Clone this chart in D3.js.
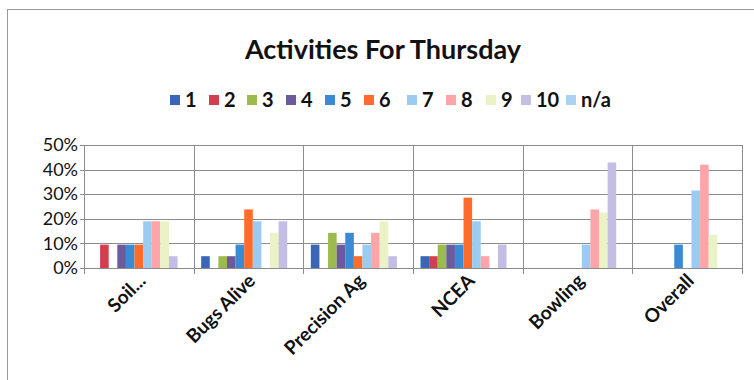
<!DOCTYPE html>
<html>
<head>
<meta charset="utf-8">
<script src="https://cdn.jsdelivr.net/npm/d3@7"></script>
<style>
  html, body { margin: 0; padding: 0; background: #fff; }
  svg { display: block; font-family: Lato, "Open Sans", sans-serif; }
</style>
</head>
<body>
<svg id="chart" width="754" height="380"></svg>
<script>
// Activities and rating series
const categories = ["Soil...", "Bugs Alive", "Precision Ag", "NCEA", "Bowling", "Overall"];
const seriesNames = ["1", "2", "3", "4", "5", "6", "7", "8", "9", "10", "n/a"];
const seriesColors = ["#3A66B8", "#D2404F", "#9BBB4F", "#6B5B9E", "#3A8BD6", "#FF6B2B",
                      "#9CCBF2", "#FFA5AA", "#E9F3C6", "#C4BDE4", "#A9D3F2"];

// Share of responses per activity, one array per rating (order follows categories)
const s1  = [0,     0.048, 0.095, 0.048, 0,     0];
const s2  = [0.095, 0,     0,     0.048, 0,     0];
const s3  = [0,     0.048, 0.143, 0.095, 0,     0];
const s4  = [0.095, 0.048, 0.095, 0.095, 0,     0];
const s5  = [0.095, 0.095, 0.143, 0.095, 0,     0.095];
const s6  = [0.095, 0.238, 0.048, 0.286, 0,     0];
const s7  = [0.19,  0.19,  0.095, 0.19,  0.095, 0.315];
const s8  = [0.19,  0,     0.143, 0.048, 0.238, 0.42];
const s9  = [0.19,  0.143, 0.19,  0,     0.225, 0.135];
const s10 = [0.048, 0.19,  0.048, 0.095, 0.429, 0];
const sNA = [0,     0,     0,     0,     0,     0];
const seriesValues = [s1, s2, s3, s4, s5, s6, s7, s8, s9, s10, sNA];

const yTicks = [0, 0.1, 0.2, 0.3, 0.4, 0.5];

const svg = d3.select("#chart");
const plot = { left: 84, right: 742, top: 145, bottom: 268 };

// Outer chart frame
svg.append("rect")
  .attr("x", 7.5).attr("y", 9.5).attr("width", 760).attr("height", 400)
  .attr("fill", "none").attr("stroke", "#9a9a9a").attr("stroke-width", 1);

// Title
svg.append("text")
  .attr("x", 383).attr("y", 59)
  .attr("text-anchor", "middle")
  .attr("font-size", 27).attr("font-weight", "bold").attr("fill", "#111")
  .text("Activities For Thursday");

const x0 = d3.scaleBand().domain(categories).range([plot.left, plot.right]).padding(0);
const x1 = d3.scaleBand().domain(seriesNames)
  .range([7.5, x0.bandwidth() - 7.5]).padding(0);
const y = d3.scaleLinear().domain([0, 0.5]).range([plot.bottom, plot.top]);

// Horizontal gridlines
svg.append("g").selectAll("line").data(yTicks).join("line")
  .attr("x1", plot.left - 4).attr("x2", plot.right)
  .attr("y1", d => Math.round(y(d)) + 0.5).attr("y2", d => Math.round(y(d)) + 0.5)
  .attr("stroke", "#8c8c8c").attr("stroke-width", 1);

// Vertical category separators
const bounds = categories.map(c => x0(c)).concat([plot.right]);
svg.append("g").selectAll("line").data(bounds).join("line")
  .attr("x1", d => Math.round(d) + 0.5).attr("x2", d => Math.round(d) + 0.5)
  .attr("y1", plot.top).attr("y2", plot.bottom + 6)
  .attr("stroke", "#8c8c8c").attr("stroke-width", 1);

// Y axis labels
const yAxis = d3.axisLeft(y).tickValues(yTicks).tickFormat(d3.format(".0%")).tickSize(0).tickPadding(6);
const yg = svg.append("g").attr("transform", `translate(${plot.left},0)`).call(yAxis);
yg.select(".domain").remove();
yg.selectAll("text").attr("font-size", 18).attr("fill", "#111")
  .attr("font-family", "Lato, sans-serif");

// Bars
const groups = svg.append("g").selectAll("g").data(categories).join("g")
  .attr("transform", c => `translate(${x0(c)},0)`);
groups.selectAll("rect")
  .data((c, ci) => seriesNames.map((s, si) => ({ s, si, v: seriesValues[si][ci] })))
  .join("rect")
  .attr("x", d => x1(d.s))
  .attr("width", x1.bandwidth())
  .attr("y", d => y(d.v))
  .attr("height", d => y(0) - y(d.v))
  .attr("fill", d => seriesColors[d.si]);

// Category labels, rotated
svg.append("g").selectAll("text").data(categories).join("text")
  .attr("transform", c => `translate(${x0(c) + x0.bandwidth() / 2 + 8},${plot.bottom + 14}) rotate(-45)`)
  .attr("text-anchor", "end")
  .attr("font-size", 19).attr("font-weight", "bold").attr("fill", "#111")
  .text(c => c);

// Legend
const legendX = [170, 209, 247, 286, 325, 364, 407, 446, 486, 521, 566];
const legend = svg.append("g").selectAll("g").data(seriesNames).join("g")
  .attr("transform", (d, i) => `translate(${legendX[i]},100)`);
legend.append("rect")
  .attr("x", 0).attr("y", -5).attr("width", 10).attr("height", 10)
  .attr("fill", (d, i) => seriesColors[i]);
legend.append("text")
  .attr("x", 15).attr("y", 7)
  .attr("font-size", 20).attr("font-weight", "bold").attr("fill", "#111")
  .text(d => d);
</script>
</body>
</html>
